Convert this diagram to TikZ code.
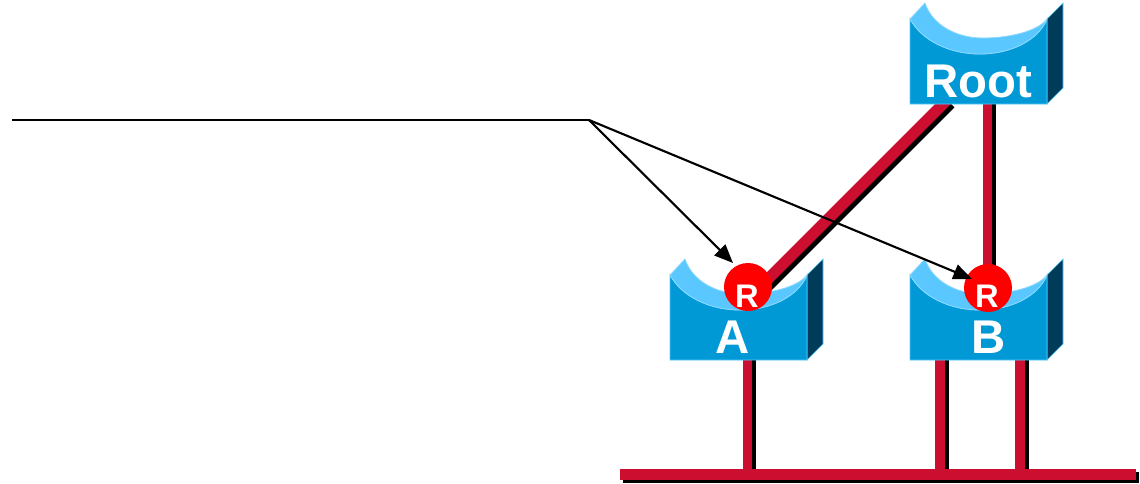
\documentclass[tikz,border=0pt]{standalone}
\usepackage{fontspec}
\setmainfont{Liberation Sans}
\usetikzlibrary{arrows.meta,shadows}
\definecolor{swbody}{RGB}{0,153,214}
\definecolor{swlight}{RGB}{90,200,255}
\definecolor{swside}{RGB}{0,60,90}
\definecolor{linkred}{RGB}{204,15,48}
\definecolor{rred}{RGB}{255,0,0}
\tikzset{
  link/.style={draw=linkred,line width=7.2pt},
  linkshadow/.style={draw=black,line width=7.2pt,transform canvas={xshift=2.8pt}},
  diaglink/.style={draw=linkred,line width=8.4pt},
  diagshadow/.style={draw=black,line width=8.4pt,transform canvas={xshift=2.6pt,yshift=-2.6pt}},
  bus/.style={rectangle,fill=linkred,inner sep=0pt,minimum width=387pt,minimum height=8.25pt,drop shadow={shadow xshift=2pt,shadow yshift=-2pt,opacity=1,fill=black}},
  swfront/.style={fill=swbody,draw=swlight,line width=0.6pt},
  swtop/.style={fill=swlight,draw=swlight!70!white,line width=0.6pt},
  swedge/.style={fill=swside,draw=swlight,line width=0.5pt},
  swnode/.style={rectangle,inner sep=0pt,minimum width=102.75pt,minimum height=63.75pt},
  swlabel/.style={text=white,font=\bfseries\fontsize{35.5}{35.5}\selectfont,inner sep=0pt,anchor=base},
  rcircle/.style={circle,fill=rred,inner sep=0pt,minimum size=36pt},
  rlabel/.style={text=white,font=\bfseries\fontsize{24.5}{24.5}\selectfont,inner sep=0pt,anchor=base},
  callout/.style={draw=black,line width=1.6pt},
  arrowline/.style={callout,-{Triangle[length=14pt,width=11.5pt]}}
}
\newcommand{\switchbody}[3]{%
  \begin{scope}[shift={(#1,#2)}]
    \path[swedge] (137,0) -- (153,-16) -- (153,69) -- (137,85) -- cycle;
    \path[swfront] (0,0) .. controls (12,22) and (40,35) .. (70,35) .. controls (100,35) and (128,22) .. (137,0) -- (137,85) -- (0,85) -- cycle;
    \path[swtop] (0,0) .. controls (12,22) and (40,35) .. (70,35) .. controls (100,35) and (128,22) .. (137,0) .. controls (128,12) and (100,19) .. (73,19) .. controls (45,19) and (22,5) .. (15,-16) -- cycle;
    \node[swnode] (#3) at (68.5,42.5) {};
  \end{scope}}
\begin{document}
\begin{tikzpicture}[x=0.75pt,y=-0.75pt]
\useasboundingbox (0,0) rectangle (1140,483);
\path[fill=white] (0,0) rectangle (1140,483);
% anchor points
\coordinate (ca) at (748,287);
\coordinate (cb) at (988,288);
\coordinate (rt) at (987.5,100);
\coordinate (rb0) at (987.5,288);
\coordinate (da) at (762,285);
\coordinate (rd) at (947,100);
\coordinate (d1) at (940,472);
\coordinate (d2) at (1020,472);
\coordinate (d3) at (747.5,472);
\coordinate (u1) at (940,358);
\coordinate (u2) at (1020,358);
\coordinate (u3) at (747.5,358);
\coordinate (src) at (12,120);
\coordinate (junction) at (589,120);
\coordinate (ta) at (733,263);
\coordinate (tb) at (972,279);
% link shadows
\path[diagshadow] (da) -- (rd);
\path[linkshadow] (rb0) -- (rt);
\path[linkshadow] (u3) -- (d3);
\path[linkshadow] (u1) -- (d1);
\path[linkshadow] (u2) -- (d2);
% links
\path[diaglink] (da) -- (rd);
\path[link] (rb0) -- (rt);
\path[link] (u3) -- (d3);
\path[link] (u1) -- (d1);
\path[link] (u2) -- (d2);
\node[bus] (lan) at (878,474.5) {};
% switches
\switchbody{910}{19}{root}
\switchbody{670}{275}{a}
\switchbody{910}{275}{b}
\node[swlabel] (rootlabel) at (978,97) {Root};
\node[swlabel] (alabel) at (733,353) {A};
\node[swlabel] (blabel) at (988.5,353) {B};
% root-port markers
\node[rcircle] (ra) at (ca) {};
\node[rcircle] (rb) at (cb) {};
\node[rlabel] (ralabel) at (747,307) {R};
\node[rlabel] (rblabel) at (987,307) {R};
% callout
\draw[callout] (src) -- (junction);
\draw[arrowline] (junction) -- (ta);
\draw[arrowline] (junction) -- (tb);
\end{tikzpicture}
\end{document}
